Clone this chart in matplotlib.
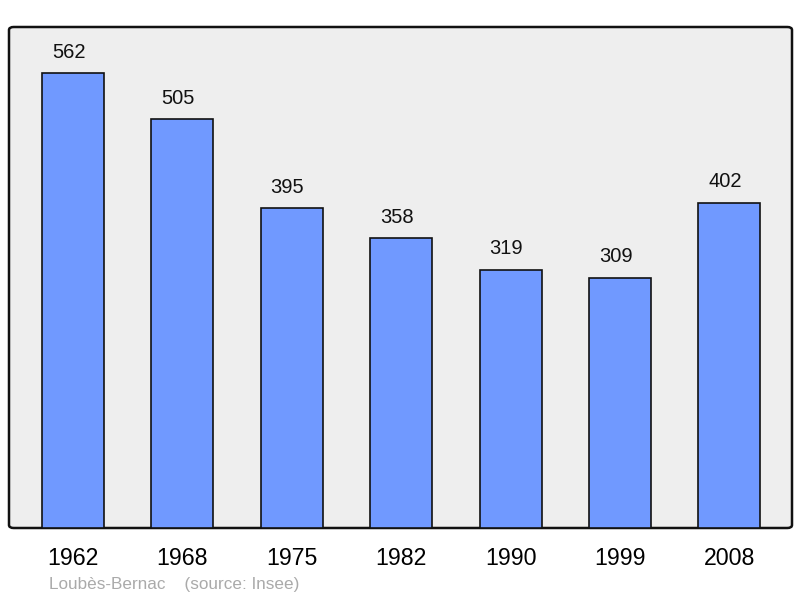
import matplotlib
matplotlib.use("Agg")
import matplotlib.pyplot as plt
from matplotlib.patches import FancyBboxPatch

years = ["1962", "1968", "1975", "1982", "1990", "1999", "2008"]
population = [562, 505, 395, 358, 319, 309, 402]

plt.rcParams['font.family'] = ['Liberation Sans', 'DejaVu Sans']

fig = plt.figure(figsize=(8, 5.98), dpi=100)
ax = fig.add_axes([9/800, 70/598, 783/800, 501/598])
ax.set_xlim(-0.585, 6.572)
ax.set_ylim(0, 618.8)

# rounded frame instead of plain spines
for s in ax.spines.values():
    s.set_visible(False)
ax.patch.set_visible(False)
frame = FancyBboxPatch((0, 0), 1, 1, boxstyle="round,pad=0,rounding_size=0.006",
                       transform=ax.transAxes, facecolor="#eeeeee",
                       edgecolor="#111111", linewidth=1.8, zorder=0,
                       clip_on=False)
ax.add_patch(frame)

x = list(range(len(years)))
ax.bar(x, population, width=0.567, color="#7099ff", edgecolor="#111111",
       linewidth=1.2, zorder=2)
for xi, v in zip(x, population):
    ax.text(xi - 0.04, v + 14, str(v), ha="center", va="bottom", fontsize=14.5,
            color="#111111")

ax.set_xticks(x)
ax.set_xticklabels(years, fontsize=16.7)
ax.tick_params(axis="x", length=0, pad=14)
ax.set_yticks([])

fig.text(49/800, 1 - 584/598, "Loubès-Bernac    (source: Insee)", fontsize=12.3,
         color="#aaaaaa", va="center", ha="left")

fig.savefig("out.png", dpi=100)
